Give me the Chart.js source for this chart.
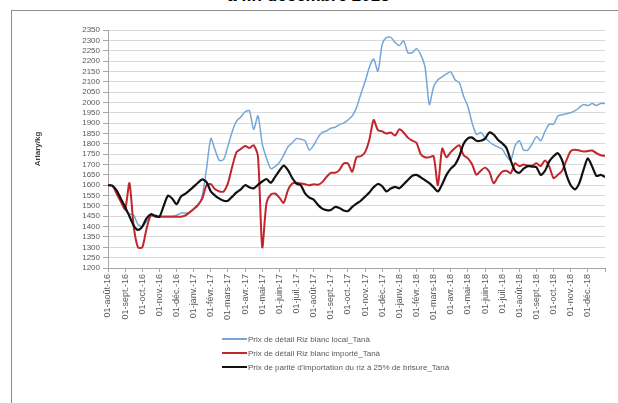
<!DOCTYPE html>
<html>
<head>
<meta charset="utf-8">
<script src="https://cdn.jsdelivr.net/npm/chart.js@4/dist/chart.umd.min.js"></script>
<style>
  html, body { margin:0; padding:0; background:#fff; }
  body { width:618px; height:403px; position:relative; overflow:hidden; font-family:"Liberation Sans", Arial, sans-serif; }
  #title { position:absolute; left:0; width:618px; top:-14px; text-align:center; font:bold italic 17px "Liberation Sans", Arial, sans-serif; color:#000; }
  #frame { position:absolute; left:11px; top:10px; width:620px; height:420px; border-left:1px solid #8c8c8c; border-top:1px solid #8c8c8c; background:#fff; }
  #wrap { position:absolute; left:0; top:0; width:618px; height:403px; }
  #legend { position:absolute; left:222px; top:332px; font-size:8px; color:#595959; }
  .row { display:flex; align-items:center; height:14px; }
  .sw { width:25px; margin-right:1px; }
</style>
</head>
<body>
<div id="title">à fin décembre 2018</div>
<div id="frame"></div>
<div id="wrap"><canvas id="c" width="618" height="403"></canvas></div>
<div id="legend"></div>
<script>
const monthLabels = ["01-août-16","01-sept.-16","01-oct.-16","01-nov.-16","01-déc.-16","01-janv.-17","01-févr.-17","01-mars-17","01-avr.-17","01-mai-17","01-juin-17","01-juil.-17","01-août-17","01-sept.-17","01-oct.-17","01-nov.-17","01-déc.-17","01-janv.-18","01-févr.-18","01-mars-18","01-avr.-18","01-mai-18","01-juin-18","01-juil.-18","01-août-18","01-sept.-18","01-oct.-18","01-nov.-18","01-déc.-18"];

// observations every quarter month, from 01-août-16
const localPrice = [
 1600,1598,1570,1530, 1480,1462,1455,1410, 1400,1425,1450,1455, 1450,1450,1450,1450,
 1455,1465,1465,1468, 1485,1500,1550,1680, 1826,1770,1720,1725, 1790,1860,1910,1930,
 1955,1960,1870,1935, 1800,1730,1680,1690, 1710,1745,1785,1805, 1826,1822,1815,1770,
 1793,1830,1855,1862, 1875,1880,1893,1900, 1915,1935,1975,2040, 2100,2170,2210,2150,
 2280,2314,2314,2290, 2275,2298,2240,2240, 2260,2230,2170,1990, 2076,2110,2124,2138,
 2148,2110,2095,2030, 1980,1900,1845,1855, 1830,1810,1795,1785, 1775,1740,1720,1790,
 1815,1770,1770,1800, 1835,1815,1860,1895, 1895,1935,1940,1945, 1950,1960,1975,1990,
 1985,1995,1985,1995, 1995];
const importedPrice = [
 1600,1598,1560,1520, 1485,1610,1400,1300, 1300,1390,1455,1448, 1448,1448,1448,1448,
 1448,1448,1453,1468, 1485,1505,1535,1600, 1605,1580,1570,1570, 1610,1690,1760,1775,
 1790,1780,1793,1740, 1300,1515,1555,1560, 1540,1515,1576,1608, 1612,1608,1605,1600,
 1605,1602,1615,1640, 1660,1660,1673,1705, 1705,1665,1735,1740, 1760,1820,1915,1866,
 1860,1850,1855,1840, 1870,1855,1830,1815, 1805,1750,1735,1735, 1740,1600,1777,1735,
 1760,1780,1793,1745, 1730,1700,1650,1670, 1685,1665,1610,1640, 1665,1670,1658,1706,
 1692,1700,1695,1695, 1706,1693,1720,1690, 1634,1650,1670,1720, 1765,1771,1768,1763,
 1765,1768,1755,1745, 1742];
const parityPrice = [
 1600,1598,1575,1535, 1495,1450,1405,1384, 1400,1440,1460,1452, 1448,1500,1550,1535,
 1508,1545,1558,1575, 1593,1612,1628,1615, 1570,1550,1535,1525, 1525,1545,1565,1580,
 1600,1590,1585,1602, 1618,1630,1612,1640, 1670,1695,1673,1635, 1608,1600,1560,1540,
 1530,1505,1487,1480, 1480,1495,1490,1478, 1475,1495,1511,1525, 1545,1565,1590,1606,
 1595,1570,1584,1592, 1585,1605,1625,1645, 1650,1638,1624,1610, 1590,1570,1605,1650,
 1680,1700,1740,1800, 1826,1830,1815,1815, 1825,1855,1845,1820, 1803,1780,1720,1670,
 1660,1680,1692,1690, 1687,1650,1670,1715, 1740,1755,1720,1650, 1600,1580,1610,1675,
 1730,1690,1645,1650, 1640];

const seriesNames = ["Prix de détail Riz blanc local_Tanà","Prix de détail Riz blanc importé_Tanà","Prix de parité d'importation du riz à 25% de brisure_Tanà"];
const toXY = arr => arr.map((v,i)=>({x:i/4, y:v}));

const series = [
  {label:seriesNames[0], data:toXY(localPrice), borderColor:"#74a7d8", borderWidth:1.5, order:2},
  {label:seriesNames[1], data:toXY(importedPrice), borderColor:"#c3252c", borderWidth:2, order:1},
  {label:seriesNames[2], data:toXY(parityPrice), borderColor:"#111111", borderWidth:2.2, order:0}
];

const tickFont = {family:"'Liberation Sans', Arial, sans-serif", size:8};

new Chart(document.getElementById('c'), {
  type:'line',
  data:{datasets: series.map(s=>({...s, pointRadius:0, tension:0.25, fill:false}))},
  options:{
    responsive:false, animation:false,
    layout:{padding:{left:0, top:30, right:13, bottom:0}},
    plugins:{legend:{display:false}, tooltip:{enabled:false}},
    scales:{
      x:{type:'linear', min:0, max:29,
        afterFit:s=>{s.height=135;},
        grid:{drawOnChartArea:false, drawTicks:true, tickLength:4, color:'#a6a6a6'},
        border:{color:'#a6a6a6'},
        ticks:{stepSize:1, autoSkip:false, minRotation:90, maxRotation:90, padding:2, color:'#595959',
          font:{...tickFont, size:9},
          callback:v=> monthLabels[v] !== undefined ? monthLabels[v] : ''}
      },
      y:{min:1200, max:2350,
        afterFit:s=>{s.width=108;},
        grid:{color:'#d9d9d9', tickLength:5, tickColor:'#a6a6a6'},
        border:{color:'#a6a6a6'},
        ticks:{stepSize:50, autoSkip:false, padding:3, color:'#595959', font:tickFont,
          callback:v=>String(v)},
        title:{display:true, text:'Ariary/kg', color:'#404040', padding:{top:33,bottom:0},
          font:{family:"'Liberation Sans', Arial, sans-serif", size:8, weight:'bold'}}
      }
    }
  }
});

const lg = document.getElementById('legend');
series.forEach(s=>{
  const r = document.createElement('div'); r.className='row';
  const sw = document.createElement('div'); sw.className='sw';
  sw.style.borderTop = Math.max(2, Math.round(s.borderWidth)) + 'px solid ' + s.borderColor;
  const t = document.createElement('span'); t.textContent = s.label;
  r.appendChild(sw); r.appendChild(t); lg.appendChild(r);
});
</script>
</body>
</html>
